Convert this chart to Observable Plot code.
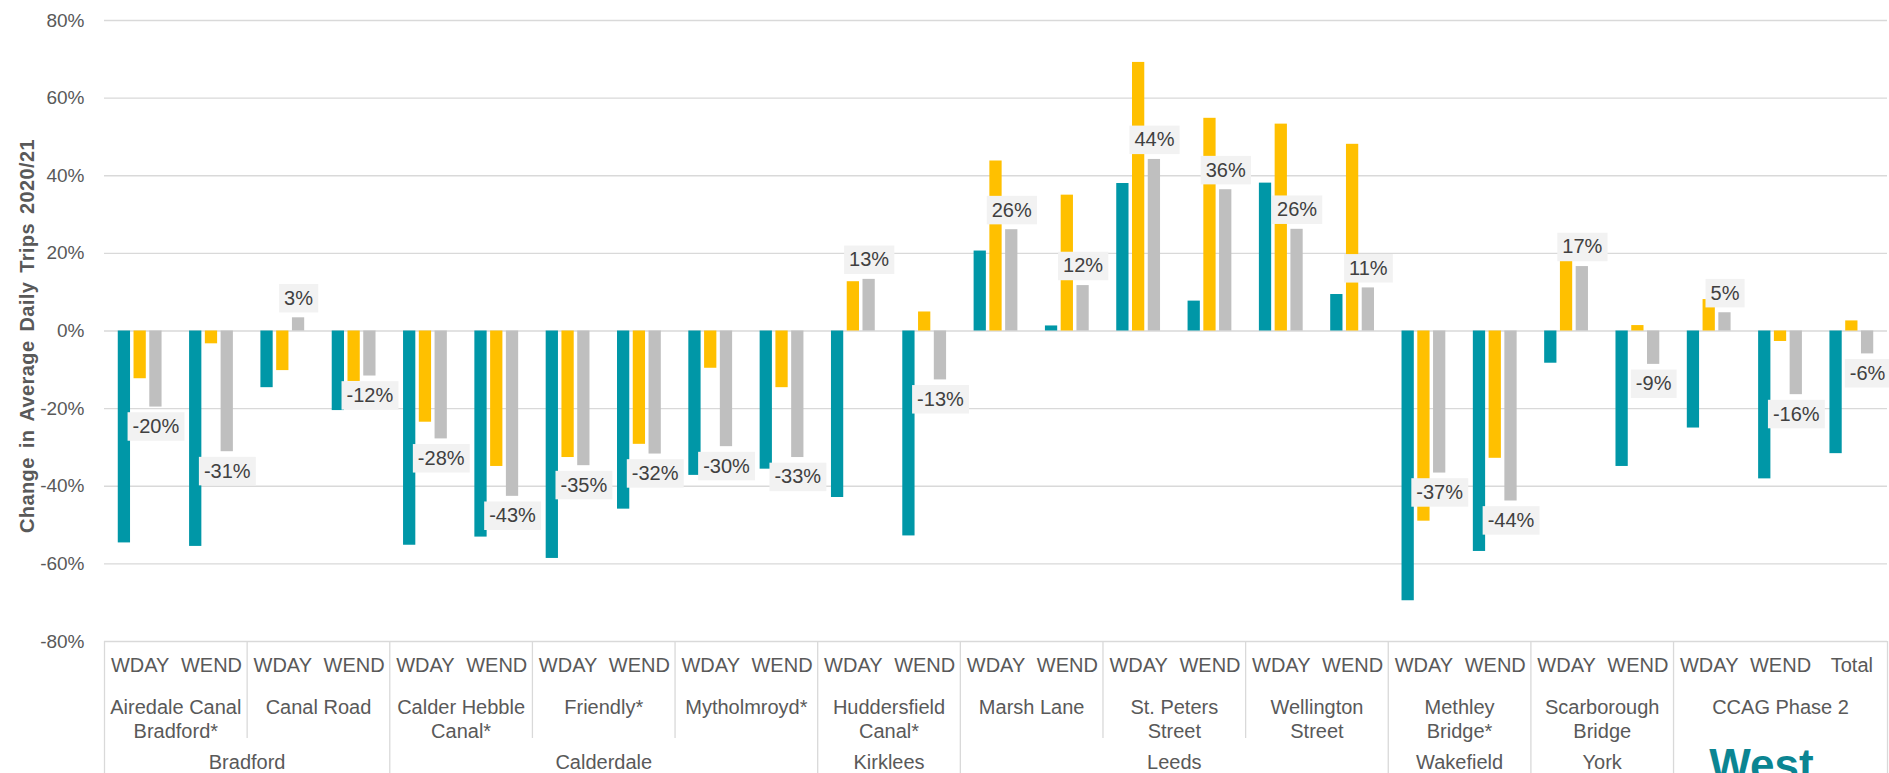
<!DOCTYPE html>
<html>
<head>
<meta charset="utf-8">
<script src="https://cdn.jsdelivr.net/npm/d3@7"></script>
<script src="https://cdn.jsdelivr.net/npm/@observablehq/plot@0.6"></script>
<style>
  html, body { margin: 0; padding: 0; background: #ffffff; overflow: hidden; }
  #chart { position: relative; width: 1889px; height: 773px; overflow: hidden; }
  #chart svg { display: block; }
</style>
</head>
<body>
<div id="chart"></div>
<script>
// ---------------- DATA ----------------
const subLabels = ["WDAY","WEND","WDAY","WEND","WDAY","WEND","WDAY","WEND","WDAY","WEND",
                   "WDAY","WEND","WDAY","WEND","WDAY","WEND","WDAY","WEND","WDAY","WEND",
                   "WDAY","WEND","WDAY","WEND","Total"];
const siteNames = ["Airedale Canal\nBradford*","Canal Road","Calder Hebble\nCanal*","Friendly*",
                   "Mytholmroyd*","Huddersfield\nCanal*","Marsh Lane","St. Peters\nStreet",
                   "Wellington\nStreet","Methley\nBridge*","Scarborough\nBridge","CCAG Phase 2"];
const siteSizes = [2,2,2,2,2,2,2,2,2,2,2,3];
const siteDistricts = ["Bradford","Bradford","Calderdale","Calderdale","Calderdale","Kirklees",
                       "Leeds","Leeds","Leeds","Wakefield","York",""];
// change in average daily trips (%), three series per category
const seriesTeal   = [-54.6,-55.5,-14.6,-20.5,-55.2,-53.1,-58.6,-45.9,-37.2,-35.6,
                      -42.9,-52.8, 20.6,  1.3, 38.0,  7.7, 38.1,  9.4,-69.5,-56.8,
                       -8.3,-34.9,-25.0,-38.1,-31.6];
const seriesYellow = [-12.3, -3.3,-10.2,-13.0,-23.5,-34.9,-32.6,-29.2, -9.6,-14.6,
                       12.7,  4.9, 43.8, 35.0, 69.2, 54.8, 53.3, 48.1,-49.0,-32.8,
                       18.0,  1.4,  8.1, -2.7,  2.6];
const seriesGrey   = [-19.6,-31.1,  3.4,-11.6,-27.8,-42.6,-34.7,-31.7,-29.8,-32.6,
                       13.3,-12.6, 26.1, 11.7, 44.2, 36.4, 26.2, 11.1,-36.6,-43.8,
                       16.6, -8.6,  4.7,-16.4, -5.9];
const yTicks = [-80,-60,-40,-20,0,20,40,60,80];
const yTitle = "Change in Average Daily Trips 2020/21";
const logoText = "West";

// ---------------- STYLE ----------------
const colors = ["#0097A7", "#FFC000", "#BFBFBF"];
const offsets = [-0.221, 0, 0.221];
const halfW = 0.086;
const font = "'Liberation Sans', Arial, Helvetica, sans-serif";
const textGrey = "#595959";
const lineGrey = "#D9D9D9";

// ---------------- DERIVED TABLES ----------------
const seriesList = [seriesTeal, seriesYellow, seriesGrey];
const bars = [];
seriesList.forEach((arr, s) => arr.forEach((v, i) => bars.push({i, s, v})));
const labelRows = seriesGrey.map((v, i) => ({i, v}));
const fmt = v => Math.round(v) + "%";

const siteStarts = [];
{ let acc = 0; for (const n of siteSizes) { siteStarts.push(acc); acc += n; } }
const siteRows = siteNames.map((name, k) => ({
  name, start: siteStarts[k], end: siteStarts[k] + siteSizes[k] - 1, district: siteDistricts[k]
}));
const districtRows = [];
siteRows.forEach((r, k) => {
  const last = districtRows[districtRows.length - 1];
  if (k > 0 && last && last.name === r.district && r.district !== "") last.end = r.end;
  else districtRows.push({name: r.district, start: r.start, end: r.end});
});
const nCats = subLabels.length;
const districtDividers = [-0.5, ...districtRows.map(d => d.end + 0.5)];
const siteDividers = siteRows.slice(1).map(r => r.start - 0.5).filter(b => !districtDividers.includes(b));
const logoRow = siteRows[siteRows.length - 1];

const xScale = {domain: [-0.5, nCats - 0.5], axis: null};

// ---------------- MAIN PLOT ----------------
const main = Plot.plot({
  width: 1889,
  height: 641,
  marginLeft: 104,
  marginRight: 2,
  marginTop: 20,
  marginBottom: 0,
  style: {background: "transparent", overflow: "visible", fontFamily: font, fontSize: "19px", color: textGrey},
  x: xScale,
  y: {domain: [-80, 80], ticks: 8, tickFormat: d => d + "%", tickSize: 0, tickPadding: 20, label: null},
  marks: [
    Plot.ruleY(yTicks, {y: d => d, stroke: lineGrey, strokeWidth: 1.3}),
    Plot.rect(bars, {
      x1: d => d.i + offsets[d.s] - halfW,
      x2: d => d.i + offsets[d.s] + halfW,
      y1: 0, y2: "v",
      fill: d => colors[d.s]
    }),
    Plot.text(labelRows.filter(d => d.v >= 0), {
      x: d => d.i + offsets[2], y: "v", text: d => fmt(d.v), dy: -19.5,
      fontSize: 20, fill: "#404040"
    }),
    Plot.text(labelRows.filter(d => d.v < 0), {
      x: d => d.i + offsets[2], y: "v", text: d => fmt(d.v), dy: 19.5,
      fontSize: 20, fill: "#404040"
    }),
    Plot.text([yTitle], {
      frameAnchor: "left", textAnchor: "middle", rotate: -90, dx: -77, dy: 5, text: d => d,
      fontSize: 20, fontWeight: "bold", fill: textGrey
    })
  ]
});

// ---------------- CATEGORY TABLE ----------------
const table = Plot.plot({
  width: 1889,
  height: 132,
  marginLeft: 104,
  marginRight: 2,
  marginTop: 0,
  marginBottom: 0,
  style: {background: "transparent", fontFamily: font, fontSize: "20px", color: textGrey},
  x: xScale,
  y: {domain: [0, 3], range: [0, 145.5], axis: null},
  marks: [
    Plot.ruleX(siteDividers, {x: d => d, y1: 0, y2: 2, stroke: lineGrey, strokeWidth: 1.3}),
    Plot.ruleX(districtDividers, {x: d => d, y1: 0, y2: 3, stroke: lineGrey, strokeWidth: 1.3}),
    Plot.text(subLabels, {x: (d, i) => i, y: 0.5, text: d => d, fontSize: 20, fill: textGrey}),
    Plot.text(siteRows, {
      x: d => (d.start + d.end) / 2, y: 1, text: "name", lineAnchor: "top", dy: 6.5,
      lineHeight: 1.2, fontSize: 20, fill: textGrey
    }),
    Plot.text(districtRows.filter(d => d.name !== ""), {
      x: d => (d.start + d.end) / 2, y: 2.5, text: "name", fontSize: 20, fill: textGrey
    }),
    Plot.text([logoText], {
      x: logoRow.start, y: 2, text: d => d, textAnchor: "start", lineAnchor: "top", dy: 10,
      fontSize: 44, fontWeight: "bold", fill: "#0B8592"
    })
  ]
});

const root = document.getElementById("chart");
root.appendChild(main);
root.appendChild(table);

// grey label boxes behind the data labels, and spacing of the axis title
const NS = "http://www.w3.org/2000/svg";
const labelSet = new Set(labelRows.map(d => fmt(d.v)));
main.querySelectorAll("text").forEach(t => {
  const txt = t.textContent;
  if (txt === yTitle) {
    t.setAttribute("letter-spacing", "0.4");
    t.setAttribute("word-spacing", "3");
    return;
  }
  const g = t.parentNode;
  if (!labelSet.has(txt)) return;
  if (g.closest('[aria-label^="y-axis"]')) return;
  const b = t.getBBox();
  const w = b.width + 10, h = 28.5;
  const r = document.createElementNS(NS, "rect");
  r.setAttribute("x", b.x + b.width / 2 - w / 2);
  r.setAttribute("y", b.y + b.height / 2 - h / 2 + 0.5);
  r.setAttribute("width", w);
  r.setAttribute("height", h);
  r.setAttribute("fill", "#F2F2F2");
  const tr = t.getAttribute("transform");
  if (tr) r.setAttribute("transform", tr);
  g.insertBefore(r, t);
});
</script>
</body>
</html>
